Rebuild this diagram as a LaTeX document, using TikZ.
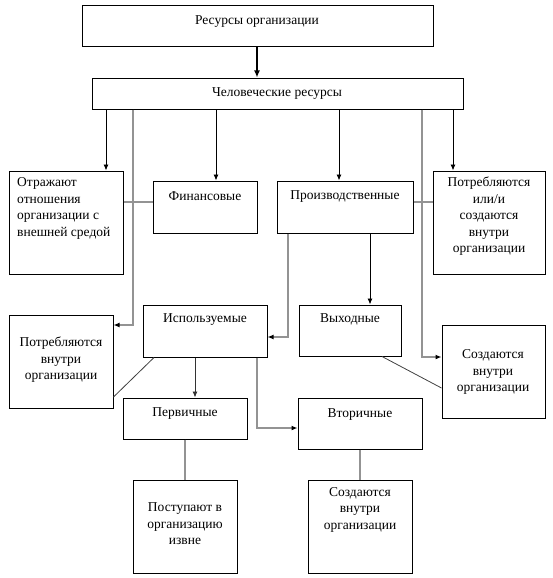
\documentclass[tikz,border=0pt]{standalone}
\usepackage{fontspec}
\setmainfont{Liberation Serif}
\usetikzlibrary{fit,arrows.meta}
\begin{document}
\begin{tikzpicture}[x=1pt,y=-1pt,
  box/.style={draw=black,line width=1pt,inner sep=0pt,rectangle},
  txt/.style={inner sep=0pt,font=\fontsize{13.5}{16.5}\selectfont,align=center},
  arr/.style={draw=black,line width=0.9pt,-{Latex[length=6pt,width=5pt]}},
  garr/.style={draw=gray!85,line width=1.2pt,-{Latex[length=6pt,width=5pt,color=black]}},
  gline/.style={draw=gray!85,line width=1.2pt},
  dline/.style={draw=black!75,line width=0.8pt}]
\useasboundingbox (0,0) rectangle (552,578);
\fill[white] (0,0) rectangle (552,578);
% boxes
\node[box,fit={(82,6)(433,47)}] (top) {};
\node[box,fit={(92,78)(463,109)}] (hum) {};
\node[box,fit={(9,171)(123,274)}] (otr) {};
\node[box,fit={(153,181)(257,233)}] (fin) {};
\node[box,fit={(277,181)(413,233)}] (pro) {};
\node[box,fit={(433,171)(545,274)}] (potr) {};
\node[box,fit={(143,305)(267,357)}] (isp) {};
\node[box,fit={(299,305)(401,356)}] (vyh) {};
\node[box,fit={(9,315)(113,408)}] (potrb) {};
\node[box,fit={(442,325)(545,418)}] (sozd) {};
\node[box,fit={(123,398)(247,439)}] (perv) {};
\node[box,fit={(298,398)(422,449)}] (vtor) {};
\node[box,fit={(133,480)(237,573)}] (post) {};
\node[box,fit={(308,480)(412,573)}] (sozdb) {};
% texts
\node[txt] (ttop) at (257,21.5) {Ресурсы организации};
\node[txt] (thum) at (277,93.5) {Человеческие ресурсы};
\node[txt,align=left,anchor=west] (totr) at (17,208.5) {Отражают\\отношения\\организации с\\внешней средой};
\node[txt] (tfin) at (205,196.5) {Финансовые};
\node[txt] (tpro) at (345,196.5) {Производственные};
\node[txt] (tpotr) at (489,216.5) {Потребляются\\или/и\\создаются\\внутри\\организации};
\node[txt] (tisp) at (205,319.5) {Используемые};
\node[txt] (tvyh) at (350,319.5) {Выходные};
\node[txt] (tpotrb) at (61,360) {Потребляются\\внутри\\организации};
\node[txt] (tsozd) at (493,372) {Создаются\\внутри\\организации};
\node[txt] (tperv) at (185,413.5) {Первичные};
\node[txt] (tvtor) at (360,414.5) {Вторичные};
\node[txt] (tpost) at (185,524) {Поступают в\\организацию\\извне};
\node[txt] (tsozdb) at (360,509.5) {Создаются\\внутри\\организации};
% connectors
\draw[draw=black,line width=2pt,-{Latex[length=7pt,width=6pt]}] (257,0 |- top.south) -- (257,0 |- hum.north);
\draw[arr] (106,0 |- hum.south) -- (106,0 |- otr.north);
\draw[arr] (216,0 |- hum.south) -- (216,0 |- fin.north);
\draw[arr] (339,0 |- hum.south) -- (339,0 |- pro.north);
\draw[arr] (453,0 |- hum.south) -- (453,0 |- potr.north);
\draw[garr] (133,0 |- hum.south) |- (potrb.east |- 0,325);
\draw[garr] (422,0 |- hum.south) |- (sozd.west |- 0,357);
\draw[gline] (otr.east |- 0,202) -- (fin.west |- 0,202);
\draw[gline] (pro.east |- 0,202) -- (potr.west |- 0,202);
\draw[arr] (370,0 |- pro.south) -- (370,0 |- vyh.north);
\draw[garr] (288,0 |- pro.south) |- (isp.east |- 0,337);
\draw[arr,draw=black!80] (195,0 |- isp.south) -- (195,0 |- perv.north);
\draw[garr] (257,0 |- isp.south) |- (vtor.west |- 0,428);
\draw[dline] (154,0 |- isp.south) -- (potrb.east |- 0,397);
\draw[dline] (382,0 |- vyh.south) -- (sozd.west |- 0,388);
\draw[gline] (185,0 |- perv.south) -- (185,0 |- post.north);
\draw[gline] (360,0 |- vtor.south) -- (360,0 |- sozdb.north);
\end{tikzpicture}
\end{document}
